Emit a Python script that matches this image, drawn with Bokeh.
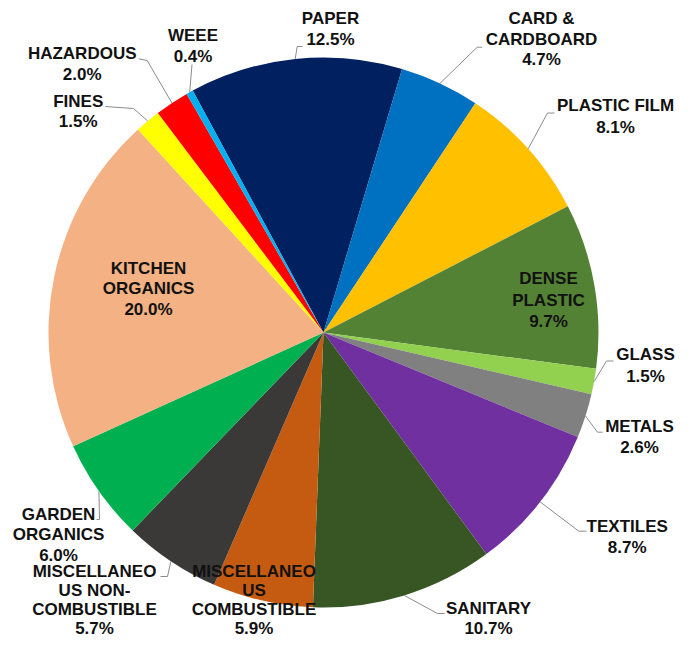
import math
from bokeh.plotting import figure
from bokeh.models import Range1d, ColumnDataSource
from bokeh.core.properties import value
from bokeh.embed import file_html
from bokeh.resources import INLINE

# ---------------- data ----------------
categories = ["PAPER", "CARD & CARDBOARD", "PLASTIC FILM", "DENSE PLASTIC", "GLASS",
              "METALS", "TEXTILES", "SANITARY", "MISCELLANEOUS COMBUSTIBLE",
              "MISCELLANEOUS NON-COMBUSTIBLE", "GARDEN ORGANICS", "KITCHEN ORGANICS",
              "FINES", "HAZARDOUS", "WEEE"]
shares = [12.5, 4.7, 8.1, 9.7, 1.5, 2.6, 8.7, 10.7, 5.9, 5.7, 6.0, 20.0, 1.5, 2.0, 0.4]
label_lines = [["PAPER"], ["CARD &", "CARDBOARD"], ["PLASTIC FILM"], ["DENSE", "PLASTIC"],
               ["GLASS"], ["METALS"], ["TEXTILES"], ["SANITARY"],
               ["MISCELLANEO", "US", "COMBUSTIBLE"], ["MISCELLANEO", "US NON-", "COMBUSTIBLE"],
               ["GARDEN", "ORGANICS"], ["KITCHEN", "ORGANICS"], ["FINES"], ["HAZARDOUS"], ["WEEE"]]
colors = ["#002060", "#0070C0", "#FFC000", "#548235", "#92D050", "#808080", "#7030A0",
          "#375623", "#C55A11", "#3B3838", "#00B050", "#F4B183", "#FFFF00", "#FF0000", "#00B0F0"]

# ---------------- layout (picture pixel coordinates) ----------------
W, H = 676, 639
CX, CY = 323, 332          # pie centre
R = 275                    # pie radius
FIRST_ANGLE = -28.4        # clockwise from 12 o'clock, degrees

# (centre x, first line centre y, line spacing)
label_pos = [(330, 18.3, 21), (541, 18, 20.7), (615, 105, 21.5), (548, 278.3, 21.3),
             (645, 354, 22), (639, 425.5, 21), (626.7, 525.5, 21), (488, 607.5, 20.5),
             (253.5, 571, 19), (94, 571, 19), (58, 513.5, 20.5), (148, 267.5, 20.8),
             (77.7, 101, 20), (81.7, 53, 21), (192.5, 35, 20.5)]
leader_pts = [[(302, 46), (296.7, 46)], [(481.7, 46.7), (476.7, 46.7)],
              [(554, 112.5), (547, 112.5)], None,
              [(613, 360.5), (606, 360.5)], [(602, 431.7), (597, 431.7)],
              [(586, 530.7), (578.3, 530.7)], [(444, 613), (437, 613)], None,
              [(160, 576), (167, 576)], [(96, 519), (99, 519)], None,
              [(105, 106), (133, 108)], [(138.3, 58.3), (146.7, 60)], [(191.5, 64)]]


def px(sx):
    return sx - CX


def py(sy):
    return CY - sy


p = figure(width=W, height=H, output_backend="svg", toolbar_location=None,
           x_range=Range1d(-CX, W - CX), y_range=Range1d(CY - H, CY),
           x_axis_location=None, y_axis_location=None, min_border=0,
           background_fill_color="white", border_fill_color="white")
p.grid.visible = False
p.outline_line_color = None

# wedges
starts, ends, mids = [], [], []
cum = 0.0
for s in shares:
    a0 = FIRST_ANGLE + cum * 3.6
    a1 = a0 + s * 3.6
    starts.append(math.radians(90 - a0))
    ends.append(math.radians(90 - a1))
    mids.append(a0 + s * 1.8)
    cum += s

src = ColumnDataSource(dict(start=starts, end=ends, color=colors, name=categories))
p.wedge(x=0, y=0, radius=R, start_angle="start", end_angle="end", direction="clock",
        fill_color="color", line_color=None, source=src)

# leader lines
xs, ys = [], []
for pts, m in zip(leader_pts, mids):
    if pts is None:
        continue
    ex = R * math.sin(math.radians(m))
    ey = R * math.cos(math.radians(m))
    xs.append([px(a) for a, b in pts] + [ex])
    ys.append([py(b) for a, b in pts] + [ey])
p.multi_line(xs=xs, ys=ys, line_color="#8C8C8C", line_width=1)

# labels
tx, ty, tt = [], [], []
for lines, s, (cx, cy0, sp) in zip(label_lines, shares, label_pos):
    all_lines = lines + [f"{s:.1f}%"]
    for k, t in enumerate(all_lines):
        tx.append(px(cx))
        ty.append(py(cy0 + k * sp))
        tt.append(t)
p.text(x=tx, y=ty, text=tt, text_font=value("Liberation Sans"), text_font_style="bold",
       text_font_size="17px", text_align="center", text_baseline="middle",
       text_color="#111111")

open("out.html", "w").write(file_html(p, INLINE))
